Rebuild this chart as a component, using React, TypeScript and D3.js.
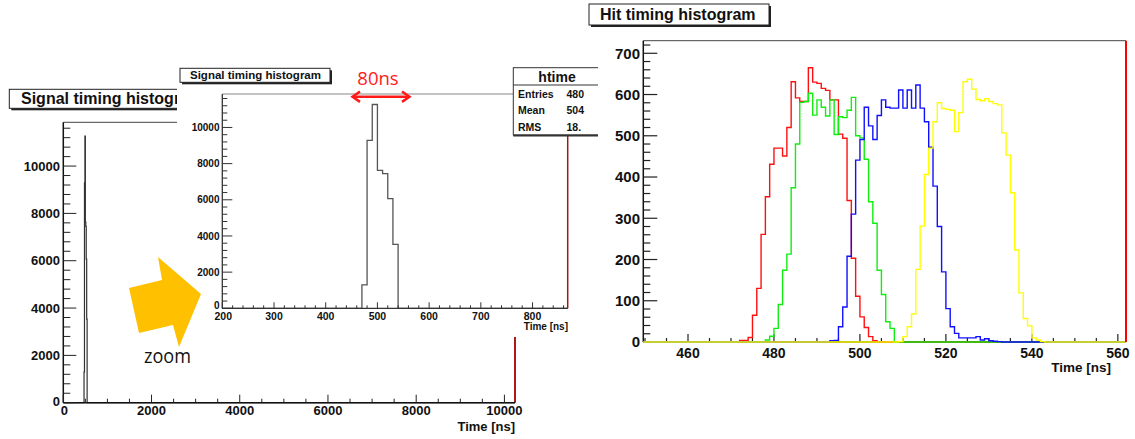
import React from 'react';
import * as d3 from 'd3';

// ---------- Right panel: "Hit timing histogram" (1 ns bins) ----------
const hitRedFirstBin = 472;
const hitRedCounts = [4, 4, 11, 65, 130, 261, 352, 431, 470, 470, 451, 520, 631, 592, 583, 583, 665, 630, 627, 615, 610, 587, 587, 504, 494, 343, 203, 111, 61, 35, 13, 3];
const hitGreenFirstBin = 477;
const hitGreenCounts = [1, 5, 14, 33, 91, 174, 213, 374, 480, 581, 583, 603, 550, 587, 569, 548, 587, 503, 546, 544, 562, 593, 500, 495, 443, 340, 288, 174, 115, 49, 33];
const hitBlueFirstBin = 492;
const hitBlueCounts = [1, 3, 4, 37, 85, 208, 310, 441, 491, 569, 524, 491, 549, 587, 569, 567, 567, 611, 567, 611, 567, 623, 567, 534, 472, 378, 280, 170, 81, 37, 21, 10, 10, 10, 10, 13, 5, 8, 3, 2, 1];
const hitYellowFirstBin = 509;
const hitYellowCounts = [1, 13, 37, 68, 176, 281, 406, 470, 534, 580, 566, 564, 562, 510, 556, 631, 637, 613, 588, 585, 590, 583, 578, 575, 507, 453, 362, 223, 119, 57, 39, 10, 5, 1];
const hitXTicks = [460, 480, 500, 520, 540, 560];
const hitYTicks = [0, 100, 200, 300, 400, 500, 600, 700];

// ---------- Left panel: "Signal timing histogram" (10 ns bins) ----------
const signalFirstBin = 470;
const signalBinWidth = 10;
const signalCounts = [1290, 9290, 11270, 7630, 7450, 6070, 3530];
const mainXTicks = [0, 2000, 4000, 6000, 8000, 10000];
const mainYTicks = [0, 2000, 4000, 6000, 8000, 10000];
const insetXTicks = [200, 300, 400, 500, 600, 700, 800];
const insetYTicks = [0, 2000, 4000, 6000, 8000, 10000];
const statsLabels = ['Entries', 'Mean', 'RMS'];
const statsValues = ['480', '504', '18.'];

const FONT = '"Liberation Sans", Arial, Helvetica, sans-serif';
const FONT2 = '"Open Sans", "Noto Sans", sans-serif';

type Sc = d3.ScaleLinear<number, number>;

function stepPath(first: number, width: number, counts: number[], x: Sc, y: Sc, lo: number, hi: number): string {
  const pts: [number, number][] = [[lo, 0]];
  counts.forEach((c, i) => pts.push([first + i * width, c]));
  pts.push([first + counts.length * width, 0]);
  pts.push([hi, 0]);
  return d3.line<[number, number]>().x(d => x(d[0])).y(d => y(d[1])).curve(d3.curveStepAfter)(pts) || '';
}

function TitleBox({ x, y, w, h, text, size, tx, ty }: { x: number; y: number; w: number; h: number; text: string; size: number; tx: number; ty: number }) {
  return (
    <g>
      <rect x={x + 2} y={y + 2} width={w} height={h} fill="#222" />
      <rect x={x} y={y} width={w} height={h} fill="#fff" stroke="#222" strokeWidth={1} />
      <text x={tx} y={ty} fontFamily={FONT} fontWeight="bold" fontSize={size} fill="#111">{text}</text>
    </g>
  );
}

export default function App() {
  // right chart scales
  const hx = d3.scaleLinear().domain([449.6, 561.9]).range([643.3, 1126]);
  const hy = d3.scaleLinear().domain([0, 730.5]).range([342, 40.7]);
  const hLo = 449.6, hHi = 561.9;
  const hMinorX = d3.range(450, 562, 5).filter(v => v % 20 !== 0);
  const hMinorY = d3.range(20, 731, 20).filter(v => v % 100 !== 0);

  // left main scales
  const mx = d3.scaleLinear().domain([0, 10240]).range([63.3, 515]);
  const my = d3.scaleLinear().domain([0, 11850]).range([402.7, 122.3]);
  const mMinorX = d3.range(500, 10240, 500).filter(v => v % 2000 !== 0);
  const mMinorY = d3.range(400, 11850, 400).filter(v => v % 2000 !== 0);

  // inset scales
  const ix = d3.scaleLinear().domain([200, 868]).range([222.3, 567.7]);
  const iy = d3.scaleLinear().domain([0, 11850]).range([308.3, 94]);
  const iMinorX = d3.range(220, 868, 20).filter(v => v % 100 !== 0);
  const iMinorY = d3.range(400, 11850, 400).filter(v => v % 2000 !== 0);

  const series = [
    { first: hitRedFirstBin, counts: hitRedCounts, color: '#ff1010' },
    { first: hitGreenFirstBin, counts: hitGreenCounts, color: '#10ee10' },
    { first: hitBlueFirstBin, counts: hitBlueCounts, color: '#1010ff' },
    { first: hitYellowFirstBin, counts: hitYellowCounts, color: '#ffff00' },
  ];

  const arrow: [number, number][] = [[129, 288], [162, 280], [158, 257], [201, 294], [179, 347], [173, 325], [139, 333]];

  return (
    <svg width={1135} height={439} style={{ position: 'absolute', left: 0, top: 0, background: '#fff' }}>
      <rect x={0} y={0} width={1135} height={439} fill="#fff" />

      {/* ================= LEFT MAIN CHART ================= */}
      <g>
        <TitleBox x={9.3} y={89.3} w={200} h={19} text="Signal timing histogram" size={16} tx={21} ty={104} />
        <line x1={mx(0)} x2={mx(10240)} y1={my(11850)} y2={my(11850)} stroke="#444" strokeWidth={1} />
        <line x1={mx(10240)} x2={mx(10240)} y1={my(11850)} y2={my(0)} stroke="#b01818" strokeWidth={2} />
        <path d={stepPath(signalFirstBin, signalBinWidth, signalCounts, mx, my, 0, 10240)} fill="none" stroke="#333" strokeWidth={1.2} />
        <line x1={mx(0)} x2={mx(0)} y1={my(11850)} y2={my(0)} stroke="#111" strokeWidth={1.5} />
        <line x1={mx(0)} x2={mx(10240)} y1={my(0)} y2={my(0)} stroke="#111" strokeWidth={1.5} />
        {mainYTicks.map(v => (
          <g key={'my' + v}>
            <line x1={mx(0)} x2={mx(0) + 13} y1={my(v)} y2={my(v)} stroke="#222" strokeWidth={1} />
            <text x={60} y={my(v) - (v === 0 ? 1 : 0)} dy="0.36em" textAnchor="end" fontFamily={FONT} fontWeight="bold" fontSize={13} fill="#111">{v}</text>
          </g>
        ))}
        {mMinorY.map(v => (
          <line key={'mmy' + v} x1={mx(0)} x2={mx(0) + 7} y1={my(v)} y2={my(v)} stroke="#222" strokeWidth={1} />
        ))}
        {mainXTicks.map(v => (
          <g key={'mx' + v}>
            <line x1={mx(v)} x2={mx(v)} y1={my(0)} y2={my(0) - 8} stroke="#222" strokeWidth={1} />
            <text x={mx(v) + (v === 0 ? 1 : 0)} y={415} textAnchor="middle" fontFamily={FONT} fontWeight="bold" fontSize={13} fill="#111">{v}</text>
          </g>
        ))}
        {mMinorX.map(v => (
          <line key={'mmx' + v} x1={mx(v)} x2={mx(v)} y1={my(0)} y2={my(0) - 4} stroke="#222" strokeWidth={1} />
        ))}
        <text x={515} y={430.5} textAnchor="end" fontFamily={FONT} fontWeight="bold" fontSize={13} fill="#111">Time [ns]</text>
      </g>

      {/* ================= INSET (zoom) ================= */}
      <defs>
        <clipPath id="insetClip">
          <rect x={177} y={56} width={421} height={281} />
        </clipPath>
      </defs>
      <g clipPath="url(#insetClip)">
        <rect x={177} y={56} width={421} height={281} fill="#fff" />
        <TitleBox x={180} y={68.3} w={150} h={14} text="Signal timing histogram" size={11.5} tx={190} ty={79.3} />
        <line x1={ix(200)} x2={513.3} y1={iy(11850)} y2={iy(11850)} stroke="#888" strokeWidth={1.2} />
        <line x1={ix(868)} x2={ix(868)} y1={135} y2={iy(0)} stroke="#a01818" strokeWidth={1.5} />
        <path d={stepPath(signalFirstBin, signalBinWidth, signalCounts, ix, iy, 200, 868)} fill="none" stroke="#555" strokeWidth={1.3} />
        <line x1={ix(200)} x2={ix(200)} y1={iy(11850)} y2={iy(0)} stroke="#333" strokeWidth={1.3} />
        <line x1={ix(200)} x2={ix(868)} y1={iy(0)} y2={iy(0)} stroke="#333" strokeWidth={1.3} />
        {insetYTicks.map(v => (
          <g key={'iy' + v}>
            <line x1={ix(200)} x2={ix(200) + 10} y1={iy(v)} y2={iy(v)} stroke="#333" strokeWidth={1} />
            <text x={219.5} y={iy(v) - (v === 0 ? 3 : 0)} dy="0.36em" textAnchor="end" fontFamily={FONT} fontWeight="bold" fontSize={10} fill="#111">{v}</text>
          </g>
        ))}
        {iMinorY.map(v => (
          <line key={'imy' + v} x1={ix(200)} x2={ix(200) + 5} y1={iy(v)} y2={iy(v)} stroke="#333" strokeWidth={1} />
        ))}
        {insetXTicks.map(v => (
          <g key={'ix' + v}>
            <line x1={ix(v)} x2={ix(v)} y1={iy(0)} y2={iy(0) - 6} stroke="#333" strokeWidth={1} />
            <text x={ix(v) + (v === 200 ? 1 : 0)} y={320} textAnchor="middle" fontFamily={FONT} fontWeight="bold" fontSize={10.5} fill="#111">{v}</text>
          </g>
        ))}
        {iMinorX.map(v => (
          <line key={'imx' + v} x1={ix(v)} x2={ix(v)} y1={iy(0)} y2={iy(0) - 3} stroke="#333" strokeWidth={1} />
        ))}
        <text x={568} y={330} textAnchor="end" fontFamily={FONT} fontWeight="bold" fontSize={10} fill="#111">Time [ns]</text>

        {/* stats box */}
        <rect x={513.3} y={67.7} width={120} height={67.3} fill="#fff" stroke="#333" strokeWidth={1} />
        <line x1={513.3} x2={640} y1={135.5} y2={135.5} stroke="#333" strokeWidth={2} />
        <line x1={513.3} x2={640} y1={85} y2={85} stroke="#333" strokeWidth={1} />
        <text x={557} y={81.5} textAnchor="middle" fontFamily={FONT} fontWeight="bold" fontSize={14} fill="#111">htime</text>
        {statsLabels.map((l, i) => (
          <g key={l}>
            <text x={518} y={97.5 + i * 16.8} fontFamily={FONT} fontWeight="bold" fontSize={10.5} fill="#111">{l}</text>
            <text x={566.5} y={97.5 + i * 16.8} fontFamily={FONT} fontWeight="bold" fontSize={10.5} fill="#111">{statsValues[i]}</text>
          </g>
        ))}

        {/* 80ns annotation */}
        <line x1={353} x2={409} y1={96.7} y2={96.7} stroke="#ff1a1a" strokeWidth={2.5} />
        <polyline points="360,91.5 352.5,96.7 360,101.9" fill="none" stroke="#ff1a1a" strokeWidth={2.5} />
        <polyline points="402,91.5 409.5,96.7 402,101.9" fill="none" stroke="#ff1a1a" strokeWidth={2.5} />
        <text x={378} y={85} textAnchor="middle" fontFamily={FONT2} fontSize={18.5} fill="#ff1a1a">80ns</text>
      </g>

      {/* orange zoom arrow */}
      <polygon points={arrow.map(p => p.join(',')).join(' ')} fill="#ffc000" />
      <text x={144} y={363.3} fontFamily={FONT2} fontSize={20} textLength={47} lengthAdjust="spacingAndGlyphs" fill="#111">zoom</text>

      {/* ================= RIGHT CHART ================= */}
      <g>
        <TitleBox x={589} y={4} w={180} h={21} text="Hit timing histogram" size={16} tx={600} ty={19.5} />
        <line x1={hx(hLo)} x2={hx(hHi)} y1={hy(730.5)} y2={hy(730.5)} stroke="#444" strokeWidth={1} />
        <line x1={hx(hLo)} x2={hx(hLo)} y1={hy(730.5)} y2={hy(0)} stroke="#111" strokeWidth={1.5} />
        <line x1={hx(hLo)} x2={hx(hHi)} y1={hy(0)} y2={hy(0)} stroke="#111" strokeWidth={1.5} />
        {hitYTicks.map(v => (
          <g key={'hy' + v}>
            <line x1={hx(hLo)} x2={hx(hLo) + 14} y1={hy(v)} y2={hy(v)} stroke="#222" strokeWidth={1.2} />
            <text x={640} y={hy(v)} dy="0.36em" textAnchor="end" fontFamily={FONT} fontWeight="bold" fontSize={15} fill="#111">{v}</text>
          </g>
        ))}
        {hMinorY.map(v => (
          <line key={'hmy' + v} x1={hx(hLo)} x2={hx(hLo) + 7} y1={hy(v)} y2={hy(v)} stroke="#222" strokeWidth={1.2} />
        ))}
        {hitXTicks.map(v => (
          <g key={'hx' + v}>
            <line x1={hx(v)} x2={hx(v)} y1={hy(0)} y2={hy(0) - 8} stroke="#222" strokeWidth={1.2} />
            <text x={hx(v)} y={358} textAnchor="middle" fontFamily={FONT} fontWeight="bold" fontSize={14} fill="#111">{v}</text>
          </g>
        ))}
        {hMinorX.map(v => (
          <line key={'hmx' + v} x1={hx(v)} x2={hx(v)} y1={hy(0)} y2={hy(0) - 4} stroke="#222" strokeWidth={1.2} />
        ))}
        {series.map((s, i) => (
          <path key={i} d={stepPath(s.first, 1, s.counts, hx, hy, hLo, hHi)} fill="none" stroke={s.color} strokeWidth={1.4} />
        ))}
        <line x1={hx(hHi)} x2={hx(hHi)} y1={hy(730.5)} y2={hy(0)} stroke="#ff0000" strokeWidth={2} />
        <text x={1111} y={372} textAnchor="end" fontFamily={FONT} fontWeight="bold" fontSize={13.5} fill="#111">Time [ns]</text>
      </g>
    </svg>
  );
}
